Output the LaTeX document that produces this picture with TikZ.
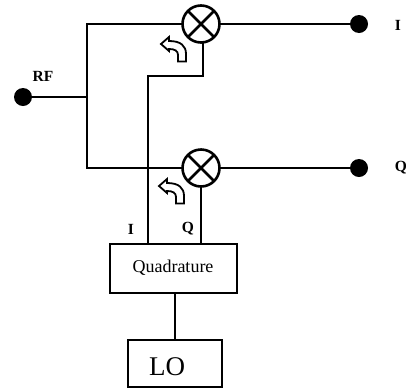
\documentclass[tikz,border=0pt]{standalone}
\usepackage{fontspec}
\setmainfont{Liberation Serif}
\begin{document}
\begin{tikzpicture}[x=1pt,y=-1pt,
  wire/.style={line width=2.6pt,line cap=rect},
  terminal/.style={circle,fill=black,inner sep=0pt,outer sep=0pt,minimum size=18pt},
  mixer/.style={circle,draw,line width=2.6pt,inner sep=0pt,outer sep=0pt,minimum size=37pt},
  blockbox/.style={rectangle,draw,line width=2.6pt,inner sep=0pt,outer sep=0pt},
  lab/.style={font=\fontsize{15.5}{15.5}\selectfont\bfseries,inner sep=0pt},
  turnarrow/.style={draw,line width=1.8pt,fill=white,line join=miter}]
\useasboundingbox (0,0) rectangle (406,389);
\node[terminal] (rf) at (23,97) {};
\node[terminal] (outi) at (359,24) {};
\node[terminal] (outq) at (359,168) {};
\node[mixer] (m1) at (201,24) {};
\node[mixer] (m2) at (201,168) {};
\node[blockbox,minimum width=127pt,minimum height=49pt] (quad) at (173.5,268.5) {};
\node[font=\fontsize{18}{18}\selectfont,inner sep=0pt] (quadt) at (173,268) {Quadrature};
\node[blockbox,minimum width=94pt,minimum height=47pt] (lo) at (175,363.5) {};
\node[font=\fontsize{27}{27}\selectfont,inner sep=0pt] (lot) at (167,367) {LO};
\coordinate (jt) at (87,24);
\coordinate (jm) at (87,97);
\coordinate (jb) at (87,168);
\coordinate (ib) at (148,244);
\coordinate (it) at (148,76);
\coordinate (ic) at (203,76);
\coordinate (qb) at (201,244);
\foreach \m in {m1,m2}{
  \draw[line width=2.6pt] (\m.45) -- (\m.225);
  \draw[line width=2.6pt] (\m.135) -- (\m.315);
}
\draw[wire] (rf) -- (jm);
\draw[wire] (m1) -- (jt) -- (jb) -- (m2);
\draw[wire] (m1) -- (outi);
\draw[wire] (m2) -- (outq);
\draw[wire] (ib) -- (it) -- (ic) -- (ic |- m1.south);
\draw[wire] (m2) -- (qb);
\draw[wire] (quad.south -| lo) -- (lo);
\foreach \dx/\dy/\nm in {161/44/a1,159/186/a2}{
  \draw[turnarrow,shift={(\dx,\dy)}] (0,0) -- (8,-7) -- (8,-3)
    .. controls (20,-3) and (25,2) .. (25,10) -- (25,17.5) -- (17,17.5) -- (17,11)
    .. controls (17,7) and (14,5) .. (8,5) -- (8,7) -- cycle;
}
\node[lab] (lrf) at (43,76) {RF};
\node[lab] (li) at (131,229) {I};
\node[lab] (lq) at (188,229) {Q};
\node[lab] (lio) at (398,25) {I};
\node[lab] (lqo) at (401,168) {Q};
\end{tikzpicture}
\end{document}
